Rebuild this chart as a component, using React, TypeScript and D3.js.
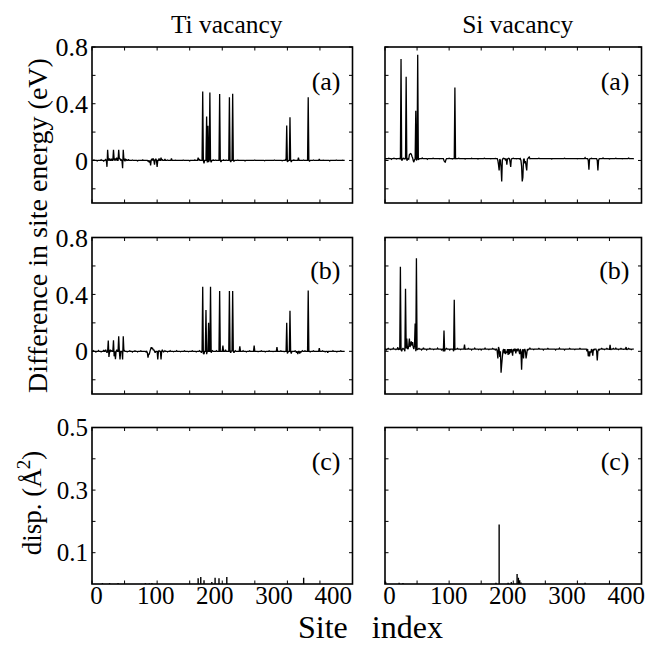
import React from 'react';
import * as d3 from 'd3';

// ---------------- data ----------------
const siteMax = 388; // sites 0..388
const columnTitles = ['Ti vacancy', 'Si vacancy'];
const panelTags = ['(a)', '(b)', '(c)'];
const xTicks = [0, 50, 100, 150, 200, 250, 300, 350, 400];
const xTickLabels = [0, 100, 200, 300, 400];
const energyTicks = [-0.2, 0, 0.2, 0.4, 0.6, 0.8];
const energyTickLabels = [0, 0.4, 0.8];
const dispTicks = [0.1, 0.2, 0.3, 0.4, 0.5];
const dispTickLabels = [0.1, 0.3, 0.5];
const yTitleEnergy = 'Difference in site energy (eV)';
const xTitle = 'Site   index';

// level of the flat part of each curve (sites not listed below)
const tiBaseA = 0;
const tiBaseB = 0;
const siBaseA = 0.013;
const siBaseB = 0.016;

// [site, energy difference (eV)]
const tiEnergyA: [number, number][] = [
  [3, 0.004], [8, -0.003], [14, 0.005], [18, -0.004], [21, 0.006],
  [23, -0.045], [24, 0.075], [25, 0.005], [27, 0.015], [28, 0.0], [30, 0.012], [33, 0.075], [34, 0.008],
  [36, 0.015], [38, 0.02], [39, 0.0], [41, 0.075], [42, 0.01], [43, 0.015], [45, 0.005], [47, -0.055],
  [48, 0.075], [49, 0.005], [51, 0.012], [53, 0.005], [56, 0.008], [62, 0.003], [70, -0.003], [78, 0.004],
  [86, -0.005], [88, -0.015], [90, -0.035], [91, 0.005], [92, 0.01], [94, 0.015], [96, -0.03], [97, 0.005],
  [98, 0.012], [100, -0.045], [101, 0.0], [103, 0.015], [106, 0.02], [108, 0.005], [112, 0.01], [116, 0.003],
  [122, 0.015], [128, 0.002], [140, 0.003], [150, -0.003], [158, 0.004],
  [163, 0.02], [165, 0.01], [167, 0.0], [170, 0.487], [171, 0.0], [172, -0.02], [174, 0.0], [176, 0.31],
  [177, -0.015], [178, 0.245], [179, -0.01], [181, 0.48], [182, 0.0], [183, -0.012], [186, 0.004], [190, 0.003],
  [194, 0.0], [196, 0.468], [197, 0.0], [198, -0.01], [202, 0.004], [206, 0.003], [211, 0.445], [212, 0.0],
  [213, -0.01], [216, 0.47], [217, 0.0], [218, -0.006], [224, 0.003], [235, -0.003], [250, 0.003],
  [265, -0.002], [280, 0.003], [292, -0.002], [297, 0.005], [299, 0.247], [300, -0.01], [301, -0.005],
  [304, 0.305], [305, 0.0], [306, -0.01], [310, 0.004], [317, 0.02], [318, 0.0], [325, 0.003], [332, 0.445],
  [333, 0.0], [334, -0.005], [340, 0.003], [349, 0.01], [355, 0.002], [365, -0.003], [375, 0.003], [385, 0.002],
];

const tiEnergyB: [number, number][] = [
  [2, 0.005], [6, -0.005], [10, 0.006], [14, -0.004], [18, 0.008], [21, 0.012], [23, -0.01], [25, 0.075],
  [26, -0.04], [28, 0.01], [30, 0.005], [33, 0.078], [34, -0.035], [35, 0.0], [36, -0.055], [37, 0.0],
  [38, 0.01], [41, 0.105], [42, 0.0], [43, -0.058], [44, 0.0], [46, 0.0], [47, -0.058], [48, 0.105], [49, 0.0],
  [50, 0.005], [54, -0.004], [58, 0.004], [62, -0.005], [66, 0.003], [70, -0.004], [75, 0.003], [80, 0.0],
  [83, -0.005], [85, -0.01], [86, -0.045], [87, -0.02], [88, -0.02], [90, 0.015], [91, 0.028], [92, 0.02],
  [93, 0.022], [94, 0.01], [95, 0.01], [97, -0.01], [99, 0.0], [101, -0.058], [102, 0.0], [103, 0.005],
  [105, 0.0], [106, -0.058], [107, 0.0], [108, 0.01], [110, -0.004], [112, 0.005], [116, -0.004], [120, 0.005],
  [125, -0.003], [130, 0.005], [136, -0.003], [142, 0.004], [148, -0.003], [154, 0.004], [160, -0.004],
  [165, 0.005], [167, 0.0], [168, -0.01], [170, 0.454], [171, -0.015], [172, -0.02], [173, 0.0], [175, 0.29],
  [176, -0.02], [177, 0.0], [179, 0.2], [180, 0.0], [182, 0.454], [183, -0.01], [185, 0.005], [188, 0.0],
  [191, 0.005], [194, 0.0], [196, 0.424], [197, 0.0], [199, 0.0], [201, 0.04], [202, 0.0], [205, 0.01],
  [208, 0.0], [211, 0.424], [212, 0.0], [213, -0.01], [214, 0.005], [216, 0.424], [217, 0.0], [218, -0.01],
  [220, 0.005], [224, 0.0], [227, 0.035], [228, 0.0], [232, 0.005], [237, -0.004], [242, 0.004], [249, 0.04],
  [250, 0.0], [255, -0.003], [260, 0.004], [266, -0.004], [272, 0.003], [278, -0.002], [284, 0.03], [285, 0.0],
  [290, 0.003], [295, -0.003], [299, 0.2], [300, -0.015], [301, -0.005], [304, 0.285], [305, 0.0],
  [306, -0.015], [308, 0.0], [312, 0.004], [314, -0.01], [316, -0.02], [317, 0.0], [319, -0.015],
  [321, -0.005], [323, 0.005], [327, 0.004], [332, 0.428], [333, 0.0], [335, -0.004], [340, 0.004], [345, 0.0],
  [349, 0.022], [350, 0.0], [354, 0.004], [358, -0.004], [362, -0.01], [366, 0.0], [370, 0.005],
  [376, -0.004], [382, 0.004], [386, 0.0],
];

const siEnergyA: [number, number][] = [
  [2, 0.012], [6, 0.015], [10, 0.008], [14, 0.016], [18, 0.01], [22, 0.014], [24, 0.008], [25, 0.715],
  [26, 0.0], [27, 0.005], [29, 0.015], [31, 0.01], [33, 0.59], [34, 0.0], [35, 0.005], [37, 0.01], [38, 0.04],
  [39, 0.045], [40, 0.048], [41, 0.045], [42, 0.03], [43, 0.02], [44, 0.0], [45, -0.012], [46, 0.005],
  [47, 0.01], [48, 0.35], [49, 0.0], [50, 0.01], [51, 0.745], [52, 0.005], [53, 0.01], [58, 0.018], [66, 0.008],
  [75, 0.016], [85, 0.012], [92, 0.0], [93, -0.01], [94, -0.012], [95, 0.005], [100, 0.016], [105, 0.01],
  [108, 0.013], [109, 0.515], [110, 0.01], [115, 0.016], [125, 0.01], [135, 0.015], [145, 0.01], [155, 0.016],
  [165, 0.012], [172, 0.014], [176, 0.0], [177, -0.03], [178, -0.07], [179, 0.01], [180, 0.0], [181, -0.05],
  [182, -0.148], [183, 0.005], [185, 0.015], [188, 0.0], [190, -0.03], [191, 0.012], [193, 0.016],
  [195, -0.01], [196, -0.045], [197, 0.01], [200, 0.016], [205, 0.012], [210, 0.01], [212, 0.0], [213, -0.04],
  [214, -0.148], [215, -0.12], [216, 0.005], [218, -0.02], [219, -0.005], [220, -0.04], [221, -0.07],
  [222, 0.01], [224, 0.022], [225, 0.025], [226, 0.012], [240, 0.016], [260, 0.01], [280, 0.016], [300, 0.012],
  [312, 0.02], [317, 0.0], [318, -0.065], [319, 0.01], [322, 0.015], [331, 0.0], [332, -0.07], [333, 0.0],
  [334, 0.012], [340, 0.018], [350, 0.01], [360, 0.016], [370, 0.012], [380, 0.017], [388, 0.012],
];

const siEnergyB: [number, number][] = [
  [2, 0.01], [5, 0.02], [9, 0.012], [13, 0.022], [17, 0.012], [20, 0.028], [21, 0.01], [23, 0.012],
  [24, 0.595], [25, 0.01], [26, 0.0], [28, 0.02], [31, 0.0], [32, 0.44], [33, 0.02], [34, 0.09], [35, 0.02],
  [37, 0.04], [38, 0.09], [39, 0.03], [40, 0.05], [41, 0.07], [42, 0.04], [43, 0.065], [44, 0.03], [46, 0.04],
  [47, 0.195], [48, 0.0], [49, 0.655], [50, 0.01], [53, 0.02], [57, 0.01], [60, 0.025], [65, 0.01],
  [70, 0.02], [76, 0.012], [82, 0.022], [88, 0.01], [91, 0.0], [92, 0.147], [93, 0.0], [96, 0.02], [101, 0.01],
  [105, 0.015], [107, 0.0], [108, 0.362], [109, 0.01], [113, 0.02], [118, 0.012], [124, 0.047], [125, 0.012],
  [130, 0.02], [135, 0.01], [140, 0.022], [146, 0.012], [150, 0.01], [156, 0.022], [162, 0.012],
  [168, 0.02], [172, 0.01], [175, 0.0], [176, -0.05], [177, 0.03], [179, -0.04], [180, 0.0], [181, -0.15],
  [182, -0.09], [183, -0.04], [184, 0.005], [186, -0.015], [188, -0.02], [189, 0.0], [190, -0.01],
  [192, -0.025], [194, -0.02], [196, -0.01], [198, 0.0], [199, -0.03], [201, 0.0], [204, -0.015], [206, 0.0],
  [209, 0.0], [210, -0.02], [212, 0.0], [213, -0.13], [214, -0.01], [216, -0.05], [217, 0.01], [219, 0.0],
  [220, -0.05], [221, -0.02], [223, 0.01], [226, 0.022], [232, 0.012], [240, 0.02], [247, 0.01],
  [254, 0.02], [260, 0.015], [266, 0.01], [272, 0.022], [280, 0.01], [288, 0.02], [296, 0.012], [304, 0.02],
  [310, 0.015], [315, 0.0], [317, -0.035], [318, 0.0], [319, -0.035], [320, 0.0], [321, -0.01],
  [323, 0.005], [324, -0.03], [326, 0.01], [330, 0.0], [331, -0.065], [332, 0.0], [334, 0.01], [338, 0.02],
  [342, 0.012], [346, 0.02], [350, 0.012], [351, 0.045], [352, 0.01], [356, 0.02], [360, 0.022],
  [364, 0.012], [368, 0.02], [372, 0.014], [376, 0.03], [377, 0.01], [380, 0.02], [384, 0.012], [388, 0.015],
];

// [site, displacement (Å²)]
const tiDisp: [number, number][] = [
  [16, 0.003], [27, 0.003], [40, 0.003], [82, 0.003], [88, 0.002], [92, 0.003],
  [163, 0.018], [167, 0.022], [172, 0.012], [184, 0.006], [189, 0.02], [195, 0.018], [207, 0.022], [325, 0.02],
];
const siDisp: [number, number][] = [
  [1, 0.007], [22, 0.004], [28, 0.003], [173, 0.004], [178, 0.19], [192, 0.004], [197, 0.006],
  [206, 0.032], [208, 0.02], [210, 0.012], [212, 0.005], [312, 0.004],
];

// ---------------- drawing ----------------
const FONT = "'Liberation Serif','Times New Roman',Times,serif";

function expand(points: [number, number][], base: number): [number, number][] {
  const m = new Map(points);
  return d3.range(0, siteMax + 1).map((i) => [i, m.has(i) ? (m.get(i) as number) : base]);
}

type PanelProps = {
  x0: number; x1: number; y0: number; y1: number;
  yDomain: [number, number];
  yTicks: number[];
  yLabels: number[] | null;
  labelSize: number;
  xLabels: boolean;
  tag: string;
  tagBaseline: number;
  series?: [number, number][];
  bars?: [number, number][];
};

function Panel(p: PanelProps) {
  const x = d3.scaleLinear().domain([0, 400]).range([p.x0, p.x1]);
  const y = d3.scaleLinear().domain(p.yDomain).range([p.y1, p.y0]);
  const labelX = d3.scaleLinear().domain([0, 400]).range([p.x0 + 4.5, p.x0 + 241.2]);
  const tl = 3.5;
  const line = d3.line<[number, number]>().x((d) => x(d[0])).y((d) => y(d[1]));
  return (
    <g>
      {p.series && (
        <path d={line(p.series) || ''} fill="none" stroke="#000" strokeWidth={1.3} strokeLinejoin="miter" strokeMiterlimit={2} />
      )}
      {p.bars &&
        p.bars.map(([s, v], i) => (
          <line key={i} x1={x(s)} x2={x(s)} y1={y(0)} y2={y(v)} stroke="#000" strokeWidth={1.4} />
        ))}
      {xTicks.map((t) => (
        <g key={'xt' + t}>
          <line x1={x(t)} x2={x(t)} y1={p.y1} y2={p.y1 - tl} stroke="#000" strokeWidth={1} />
          <line x1={x(t)} x2={x(t)} y1={p.y0} y2={p.y0 + tl} stroke="#000" strokeWidth={1} />
        </g>
      ))}
      {p.yTicks.map((t) => (
        <g key={'yt' + t}>
          <line x1={p.x0} x2={p.x0 + tl} y1={y(t)} y2={y(t)} stroke="#000" strokeWidth={1} />
          <line x1={p.x1} x2={p.x1 - tl} y1={y(t)} y2={y(t)} stroke="#000" strokeWidth={1} />
        </g>
      ))}
      <rect x={p.x0} y={p.y0} width={p.x1 - p.x0} height={p.y1 - p.y0} fill="none" stroke="#000" strokeWidth={1.6} />
      {p.yLabels &&
        p.yLabels.map((t) => (
          <text key={'yl' + t} x={p.x0 - 4} y={y(t)} dy="0.35em" textAnchor="end" fontSize={p.labelSize} fontFamily={FONT}>
            {String(t)}
          </text>
        ))}
      {p.xLabels &&
        xTickLabels.map((t) => (
          <text key={'xl' + t} x={labelX(t)} y={604} textAnchor="middle" fontSize={25} fontFamily={FONT}>
            {String(t)}
          </text>
        ))}
      <text x={p.x1 - 12} y={p.tagBaseline} textAnchor="end" fontSize={26} fontFamily={FONT}>
        {p.tag}
      </text>
    </g>
  );
}

export default function App() {
  const cols = [
    { x0: 92, x1: 352.5 },
    { x0: 385, x1: 641.5 },
  ];
  const rows = [
    { y0: 47, y1: 203, tagBaseline: 90 },
    { y0: 237.5, y1: 394, tagBaseline: 279 },
    { y0: 427.5, y1: 584, tagBaseline: 470 },
  ];
  const energySeries = [
    [expand(tiEnergyA, tiBaseA), expand(tiEnergyB, tiBaseB)],
    [expand(siEnergyA, siBaseA), expand(siEnergyB, siBaseB)],
  ];
  const dispBars = [tiDisp, siDisp];

  return (
    <svg
      width={647}
      height={645}
      viewBox="0 0 647 645"
      style={{ position: 'absolute', left: 0, top: 0, background: '#fff' }}
    >
      <rect x={0} y={0} width={647} height={645} fill="#fff" />
      {columnTitles.map((t, ci) => (
        <text
          key={t}
          x={(cols[ci].x0 + cols[ci].x1) / 2 + 4.5}
          y={33}
          textAnchor="middle"
          fontSize={25.5}
          fontFamily={FONT}
        >
          {t}
        </text>
      ))}
      {cols.map((c, ci) =>
        rows.map((r, ri) => (
          <Panel
            key={ci + '-' + ri}
            x0={c.x0}
            x1={c.x1}
            y0={r.y0}
            y1={r.y1}
            yDomain={ri < 2 ? [-0.3, 0.8] : [0, 0.5]}
            yTicks={ri < 2 ? energyTicks : dispTicks}
            yLabels={ci === 0 ? (ri < 2 ? energyTickLabels : dispTickLabels) : null}
            labelSize={ri < 2 ? 26 : 25}
            xLabels={ri === 2}
            tag={panelTags[ri]}
            tagBaseline={r.tagBaseline}
            series={ri < 2 ? energySeries[ci][ri] : undefined}
            bars={ri === 2 ? dispBars[ci] : undefined}
          />
        ))
      )}
      <text
        transform="translate(47,225.5) rotate(-90)"
        textAnchor="middle"
        fontSize={28}
        fontFamily={FONT}
      >
        {yTitleEnergy}
      </text>
      <text
        transform="translate(41,503) rotate(-90)"
        textAnchor="middle"
        fontSize={27}
        fontFamily={FONT}
      >
        disp. (Å
        <tspan dy={-11} dx={-1} fontSize={19}>2</tspan>
        <tspan dy={11}>)</tspan>
      </text>
      <text x={298} y={638} fontSize={32} fontFamily={FONT} style={{ whiteSpace: 'pre' }}>
        {xTitle}
      </text>
    </svg>
  );
}
